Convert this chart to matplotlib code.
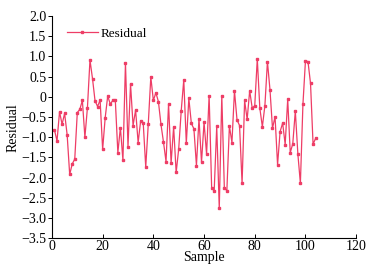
import matplotlib
matplotlib.use("Agg")
import matplotlib.pyplot as plt

plt.rcParams['font.family'] = ['Liberation Serif', 'DejaVu Serif']
plt.rcParams['axes.unicode_minus'] = True

sample = list(range(1, 105))
residual = [
    -0.82, -1.09, -0.37, -0.68, -0.41, -0.94, -1.92, -1.66, -1.54, -0.39,
    -0.31, -0.09, -1.00, -0.27, 0.91, 0.45, -0.10, -0.24, -0.08, -1.30,
    -0.52, 0.02, -0.18, -0.09, -0.09, -1.38, -0.76, -1.57, 0.84, -1.23,
    0.32, -0.71, -0.33, -1.13, -0.59, -0.64, -1.74, -0.67, 0.49, -0.09,
    0.10, -0.12, -0.68, -1.12, -1.60, -0.18, -1.64, -0.74, -1.87, -1.29,
    -0.34, 0.42, -1.15, -0.04, -0.66, -0.79, -1.70, -0.54, -1.62, -0.63,
    -1.42, 0.03, -2.26, -2.32, -0.73, -2.76, 0.03, -2.25, -2.32, -0.72,
    -1.13, 0.15, -0.57, -0.71, -2.14, -0.09, -0.56, 0.15, -0.28, -0.22,
    0.94, -0.28, -0.74, -0.22, 0.87, 0.18, -0.78, -0.49, -1.68, -0.86,
    -0.65, -1.18, -0.06, -1.38, -1.16, -0.35, -1.41, -2.14, -0.19, 0.89,
    0.87, 0.33, -1.17, -1.03,
]

xticks = [0, 20, 40, 60, 80, 100, 120]
yticks = [2.0, 1.5, 1.0, 0.5, 0, -0.5, -1.0, -1.5, -2.0, -2.5, -3.0, -3.5]
ytick_labels = ['2.0', '1.5', '1.0', '0.5', '0', '\u22120.5', '\u22121.0', '\u22121.5',
                '\u22122.0', '\u22122.5', '\u22123.0', '\u22123.5']

fig = plt.figure(figsize=(3.71, 2.74), dpi=100)
ax = fig.add_axes([0.140, 0.130, 0.820, 0.812])

color = '#ee3d66'
ax.plot(sample, residual, color=color, lw=0.9, marker='s', ms=1.7,
        mec=color, mfc=color, label='Residual')

ax.set_xlim(0, 120)
ax.set_ylim(-3.5, 2.0)
ax.set_xticks(xticks)
ax.set_yticks(yticks)
ax.set_yticklabels(ytick_labels)
ax.tick_params(axis='x', direction='in', length=3, width=0.7, labelsize=10, pad=1)
ax.tick_params(axis='y', direction='out', length=3, width=0.7, labelsize=10, pad=1)
for s in ['top', 'right']:
    ax.spines[s].set_visible(False)
for s in ['left', 'bottom']:
    ax.spines[s].set_linewidth(0.8)

ax.set_xlabel('Sample', fontsize=10, labelpad=-1)
ax.set_ylabel('Residual', fontsize=10, labelpad=1)

ax.legend(loc='upper left', frameon=False, fontsize=9.5, handlelength=2.3,
          handletextpad=0.25, borderaxespad=0.3, bbox_to_anchor=(0.02, 0.99))

fig.savefig('out.png', dpi=100)
